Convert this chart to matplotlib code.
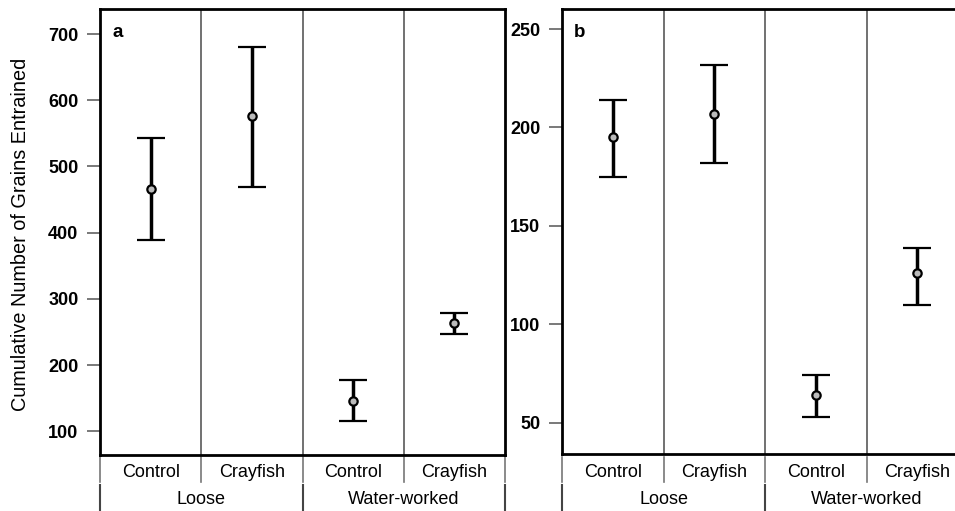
import numpy as np
import matplotlib
matplotlib.use("Agg")
import matplotlib.pyplot as plt

plt.rcParams['font.family'] = ['Liberation Sans', 'DejaVu Sans']

# treatments (inner row) and substrate (outer row)
treatments = ["Control", "Crayfish", "Control", "Crayfish"]
substrates = ["Loose", "Water-worked"]

# panel a: cumulative grains entrained (mean, upper, lower)
a_mean = [466, 577, 146, 263]
a_upper = [543, 681, 177, 279]
a_lower = [389, 469, 116, 247]
a_ticks = [100, 200, 300, 400, 500, 600, 700]

# panel b
b_mean = [195, 207, 64, 126]
b_upper = [214, 232, 74, 139]
b_lower = [175, 182, 53, 110]
b_ticks = [50, 100, 150, 200, 250]

fig = plt.figure(figsize=(9.55, 5.11), dpi=100)
W, H = 955.0, 511.0


def panel(rect_px, mean, upper, lower, ticks, ylim, letter):
    x0, y0, x1, y1 = rect_px  # left, top, right, bottom in pixels
    ax = fig.add_axes([x0 / W, (H - y1) / H, (x1 - x0) / W, (y1 - y0) / H])
    xs = np.arange(len(mean)) + 0.5
    mean = np.array(mean)
    yerr = [mean - np.array(lower), np.array(upper) - mean]
    ax.errorbar(xs, mean, yerr=yerr, fmt='o', color='black', ecolor='black',
                elinewidth=2.5, capsize=10, capthick=2.5, ms=6,
                mfc='#bbbbbb', mec='black', mew=1.6, zorder=3)
    ax.set_xlim(0, 4)
    ax.set_ylim(*ylim)
    for d in [1, 2, 3]:
        ax.axvline(d, color='#666666', lw=1.3, zorder=1)
    ax.set_xticks([])
    ax.set_yticks(ticks)
    ax.set_yticklabels([str(t) for t in ticks], fontsize=13, fontweight='bold')
    ax.tick_params(axis='y', length=9.5, width=1.1, color='#555555', pad=6)
    for s in ax.spines.values():
        s.set_linewidth(2)
        s.set_color('black')

    h = y1 - y0
    def fy(py):
        return (y1 - py) / h
    # inner row labels
    for i, t in enumerate(treatments):
        ax.text(i + 0.5, fy(472), t, ha='center', va='center', fontsize=13,
                transform=ax.get_xaxis_transform(), clip_on=False)
    for xb in [0, 1, 2, 3, 4]:
        ax.plot([xb, xb], [fy(457), fy(482)], color='#777777', lw=1.2,
                transform=ax.get_xaxis_transform(), clip_on=False)
    # outer row labels
    for j, s in enumerate(substrates):
        ax.text(2 * j + 1, fy(499), s, ha='center', va='center', fontsize=13,
                transform=ax.get_xaxis_transform(), clip_on=False)
    for xb in [0, 2, 4]:
        ax.plot([xb, xb], [fy(485), fy(515)], color='#444444', lw=1.5,
                transform=ax.get_xaxis_transform(), clip_on=False)
    ax.text(0.03, fy(37), letter, transform=ax.transAxes, fontsize=13.5,
            fontweight='bold', va='baseline', ha='left')
    return ax


panel((100, 9, 505, 455), a_mean, a_upper, a_lower, a_ticks, (64, 738), 'a')
panel((562, 9, 968, 454), b_mean, b_upper, b_lower, b_ticks, (34.1, 260.2), 'b')

fig.text(21 / W, (H - 234) / H, "Cumulative Number of Grains Entrained",
         rotation=90, ha='center', va='center', fontsize=14.3)

fig.savefig("out.png", dpi=100)
